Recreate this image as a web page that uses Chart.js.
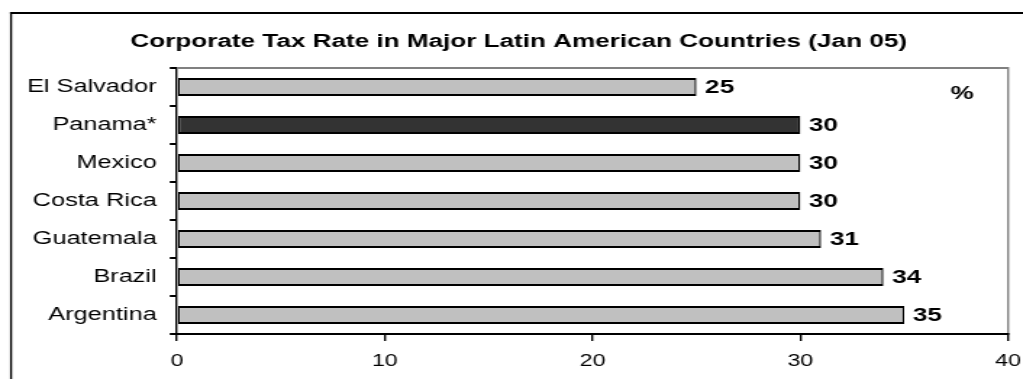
<!DOCTYPE html>
<html>
<head>
<meta charset="utf-8">
<script src="https://cdn.jsdelivr.net/npm/chart.js@4/dist/chart.umd.min.js"></script>
<style>
  html, body { margin: 0; padding: 0; background: #fff; overflow: hidden; }
  #wrap { width: 1023px; height: 379px; position: relative; }
  /* the reference is stretched sideways, so draw narrow and widen */
  #c { position: absolute; left: 0; top: 0; transform-origin: 0 0; }
</style>
</head>
<body>
<div id="wrap"><canvas id="c" width="706" height="379"></canvas></div>
<script>
// data
var countries = ['El Salvador', 'Panama*', 'Mexico', 'Costa Rica', 'Guatemala', 'Brazil', 'Argentina'];
var rates = [25, 30, 30, 30, 31, 34, 35];
var highlighted = [false, true, false, false, false, false, false];
var xTicks = [0, 10, 20, 30, 40];
var chartTitle = 'Corporate Tax Rate in Major Latin American Countries (Jan 05)';
var unitLabel = '%';

(function () {
    var W = 706, H = 379;
    var S = 1023 / W; // horizontal stretch
    var canvas = document.getElementById('c');
    canvas.style.transform = 'scaleX(' + S + ')';

    Chart.defaults.font.family = "'Liberation Sans', Arial, sans-serif";
    Chart.defaults.color = '#000';

    var barColors = highlighted.map(function (h) { return h ? '#333333' : '#c0c0c0'; });

    // frame, title, plot border, value labels
    var decorations = {
        id: 'decorations',
        beforeDraw: function (chart) {
            var ctx = chart.ctx;
            ctx.save();
            ctx.fillStyle = '#000';
            ctx.fillRect(10 / S, 12, 2 / S, H);
            ctx.fillRect(10 / S, 12, W, 2);
            ctx.restore();
        },
        afterDatasetsDraw: function (chart) {
            var ctx = chart.ctx;
            var a = chart.chartArea;
            ctx.save();
            // plot area border (top / right)
            ctx.fillStyle = '#808080';
            ctx.fillRect(a.left, a.top - 1, a.right - a.left, 2);
            ctx.fillRect(a.right - 1 / S, a.top - 1, 2 / S, a.bottom - a.top + 1);
            // title
            ctx.fillStyle = '#000';
            ctx.font = "bold 18px 'Liberation Sans', Arial, sans-serif";
            ctx.textAlign = 'center';
            ctx.textBaseline = 'alphabetic';
            ctx.fillText(chartTitle, 358, 47);
            ctx.fillText(unitLabel, 664, 99);
            // value labels
            ctx.textAlign = 'left';
            var meta = chart.getDatasetMeta(0);
            meta.data.forEach(function (bar, i) {
                ctx.fillText(String(rates[i]), bar.x + 6, bar.y + 6);
            });
            ctx.restore();
        },
        afterDraw: function (chart) {
            var ctx = chart.ctx;
            var a = chart.chartArea;
            ctx.save();
            ctx.fillStyle = '#000';
            ctx.fillRect(a.left, a.bottom - 1, a.right - a.left + 1 / S, 2);
            ctx.restore();
        }
    };

    var myChart = new Chart(canvas, {
        type: 'bar',
        data: {
            labels: countries,
            datasets: [{
                data: rates,
                backgroundColor: barColors,
                borderColor: '#000',
                borderWidth: { top: 2, bottom: 2, left: 2 / S, right: 2 / S },
                borderSkipped: false,
                barPercentage: 0.47,
                categoryPercentage: 1
            }]
        },
        options: {
            indexAxis: 'y',
            responsive: false,
            animation: false,
            devicePixelRatio: 1,
            layout: { padding: { top: 68, right: 10.3, left: 0, bottom: 0 } },
            plugins: {
                legend: { display: false },
                title: { display: false },
                tooltip: { enabled: false }
            },
            scales: {
                x: {
                    type: 'linear',
                    min: xTicks[0],
                    max: xTicks[xTicks.length - 1],
                    afterBuildTicks: function (scale) {
                        scale.ticks = xTicks.map(function (v) { return { value: v }; });
                    },
                    afterFit: function (scale) {
                        scale.height = 45;
                        scale.paddingLeft = 0;
                        scale.paddingRight = 0;
                    },
                    grid: {
                        drawOnChartArea: false,
                        drawTicks: true,
                        tickLength: 7,
                        color: '#000',
                        lineWidth: 2 / S
                    },
                    border: { display: true, color: '#000', width: 2 },
                    ticks: {
                        font: { size: 16 },
                        color: '#000',
                        padding: 11,
                        maxRotation: 0
                    }
                },
                y: {
                    afterFit: function (scale) {
                        scale.width = 122.15;
                        scale.paddingTop = 0;
                        scale.paddingBottom = 0;
                    },
                    grid: {
                        offset: true,
                        drawOnChartArea: false,
                        drawTicks: true,
                        tickLength: 5,
                        color: '#000',
                        lineWidth: 2
                    },
                    border: { display: true, color: '#000', width: 2 / S },
                    ticks: {
                        font: { size: 17.5 },
                        color: '#000',
                        padding: 9
                    }
                }
            }
        },
        plugins: [decorations]
    });
}());
</script>
</body>
</html>
